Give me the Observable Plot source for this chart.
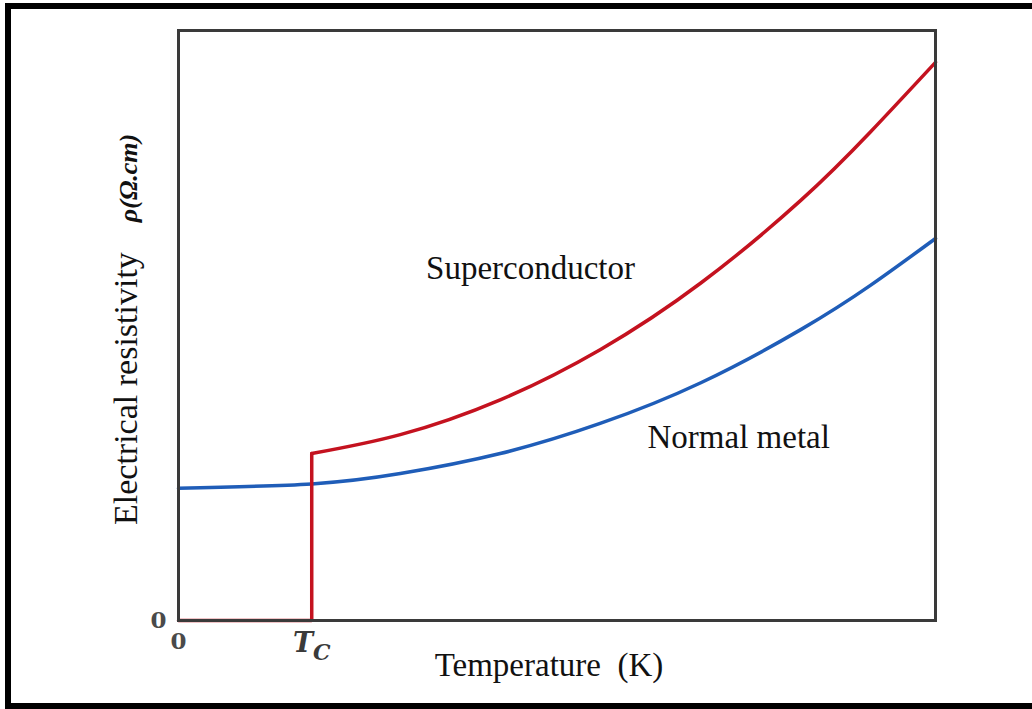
<!DOCTYPE html>
<html><head><meta charset="utf-8">
<script src="https://cdn.jsdelivr.net/npm/d3@7"></script>
<script src="https://cdn.jsdelivr.net/npm/@observablehq/plot@0.6"></script>
<style>
body{margin:0;background:#fff;}
#wrap{position:relative;width:1032px;height:709px;overflow:hidden;background:#fff;}
#border{position:absolute;left:5px;top:3px;width:1100px;height:706px;box-sizing:border-box;border:6px solid #000;pointer-events:none;}
</style></head><body><div id="wrap"><div id="border"></div></div>
<script>
// Temperature (arbitrary units, 0..100) and resistivity (arbitrary units, 0..100)
const Tc = 17.6;
const normalT   = [0, 17.6, 29.3, 42.5, 55.7, 69.0, 82.2, 91.4, 100];
const normalRho = [22.4, 23.15, 24.9, 28.3, 33.4, 40.3, 49.3, 56.8, 64.75];
const superT    = [17.6, 29.3, 42.5, 55.7, 69.0, 82.2, 91.4, 100];
const superRho  = [28.3, 31.5, 37.4, 45.9, 57.2, 71.2, 82.8, 94.6];
const stepT     = [0, Tc, Tc];
const stepRho   = [0, 0, 28.3];
const seriesLabels = ["Superconductor", "Normal metal"];
const labelT   = [46.5, 74.0];
const labelRho = [59.7, 31.0];

const normal = normalT.map((t, i) => ({t, rho: normalRho[i]}));
const sup = superT.map((t, i) => ({t, rho: superRho[i]}));
const step = stepT.map((t, i) => ({t, rho: stepRho[i]}));
const labels = seriesLabels.map((s, i) => ({s, t: labelT[i], rho: labelRho[i]}));

const RED = "#c4121f", BLUE = "#1f5db8";
const serif = "'Liberation Serif', 'Times New Roman', serif";
const tickFont = "'DejaVu Serif', serif";

const plot = Plot.plot({
  width: 1032, height: 709,
  marginLeft: 178, marginRight: 97, marginTop: 30, marginBottom: 89,
  style: {fontFamily: serif, background: "transparent", color: "#111"},
  x: {domain: [0, 100]},
  y: {domain: [0, 100]},
  marks: [
    Plot.line(normal, {x: "t", y: "rho", stroke: BLUE, strokeWidth: 3.5, curve: "natural"}),
    Plot.line(sup, {x: "t", y: "rho", stroke: RED, strokeWidth: 3.5, curve: "natural"}),
    Plot.line(step, {x: "t", y: "rho", stroke: RED, strokeWidth: 3.5, strokeLinejoin: "miter"}),
    Plot.frame({stroke: "#3a3a3a", strokeWidth: 3}),
    Plot.axisY({ticks: [0], tickSize: 0, tickPadding: 12, fontSize: 23, fill: "#4a4a4a", label: null}),
    Plot.axisX({ticks: [0, Tc], tickSize: 0, tickPadding: 12, fontSize: 23, fill: "#4a4a4a", label: null,
      tickFormat: d => d === 0 ? "0" : "TC"}),
    Plot.text(labels, {x: "t", y: "rho", text: "s", fontSize: 33, fill: "#111", textAnchor: "middle"})
  ]
});

document.getElementById("wrap").prepend(plot);

const svg = d3.select(plot);
// tick label styling
svg.selectAll("g[aria-label='y-axis tick label'] text, g[aria-label='x-axis tick label'] text")
  .attr("font-family", tickFont).attr("font-weight", 600).attr("font-size", 23).attr("fill", "#4a4a4a");
// Subscript for T_C
svg.selectAll("text").filter(function(){ return this.textContent === "TC"; }).each(function(){
  const t = d3.select(this);
  t.text(null).attr("font-style", "italic").attr("font-weight", "bold").attr("font-size", 27).attr("fill", "#3a3a3a");
  t.append("tspan").text("T");
  t.append("tspan").attr("font-size", 22).attr("dy", 8).text("C");
});

// Axis titles
const xs = plot.scale("x"), ys = plot.scale("y");
svg.append("text")
  .attr("x", xs.apply(0) + 371).attr("y", 676)
  .attr("text-anchor", "middle").attr("font-family", serif).attr("font-size", 33).attr("fill", "#111")
  .attr("xml:space", "preserve")
  .text("Temperature  (K)");

const yl = svg.append("text")
  .attr("transform", `translate(137, ${ys.apply(0) - 95}) rotate(-90)`)
  .attr("text-anchor", "start").attr("font-family", serif).attr("fill", "#111")
  .attr("xml:space", "preserve");
yl.append("tspan").attr("font-size", 34).text("Electrical resistivity");
yl.append("tspan").attr("font-size", 26).attr("dx", 30).attr("font-style", "italic").attr("font-weight", "bold").text("ρ(Ω.cm)");
</script>
</body></html>
